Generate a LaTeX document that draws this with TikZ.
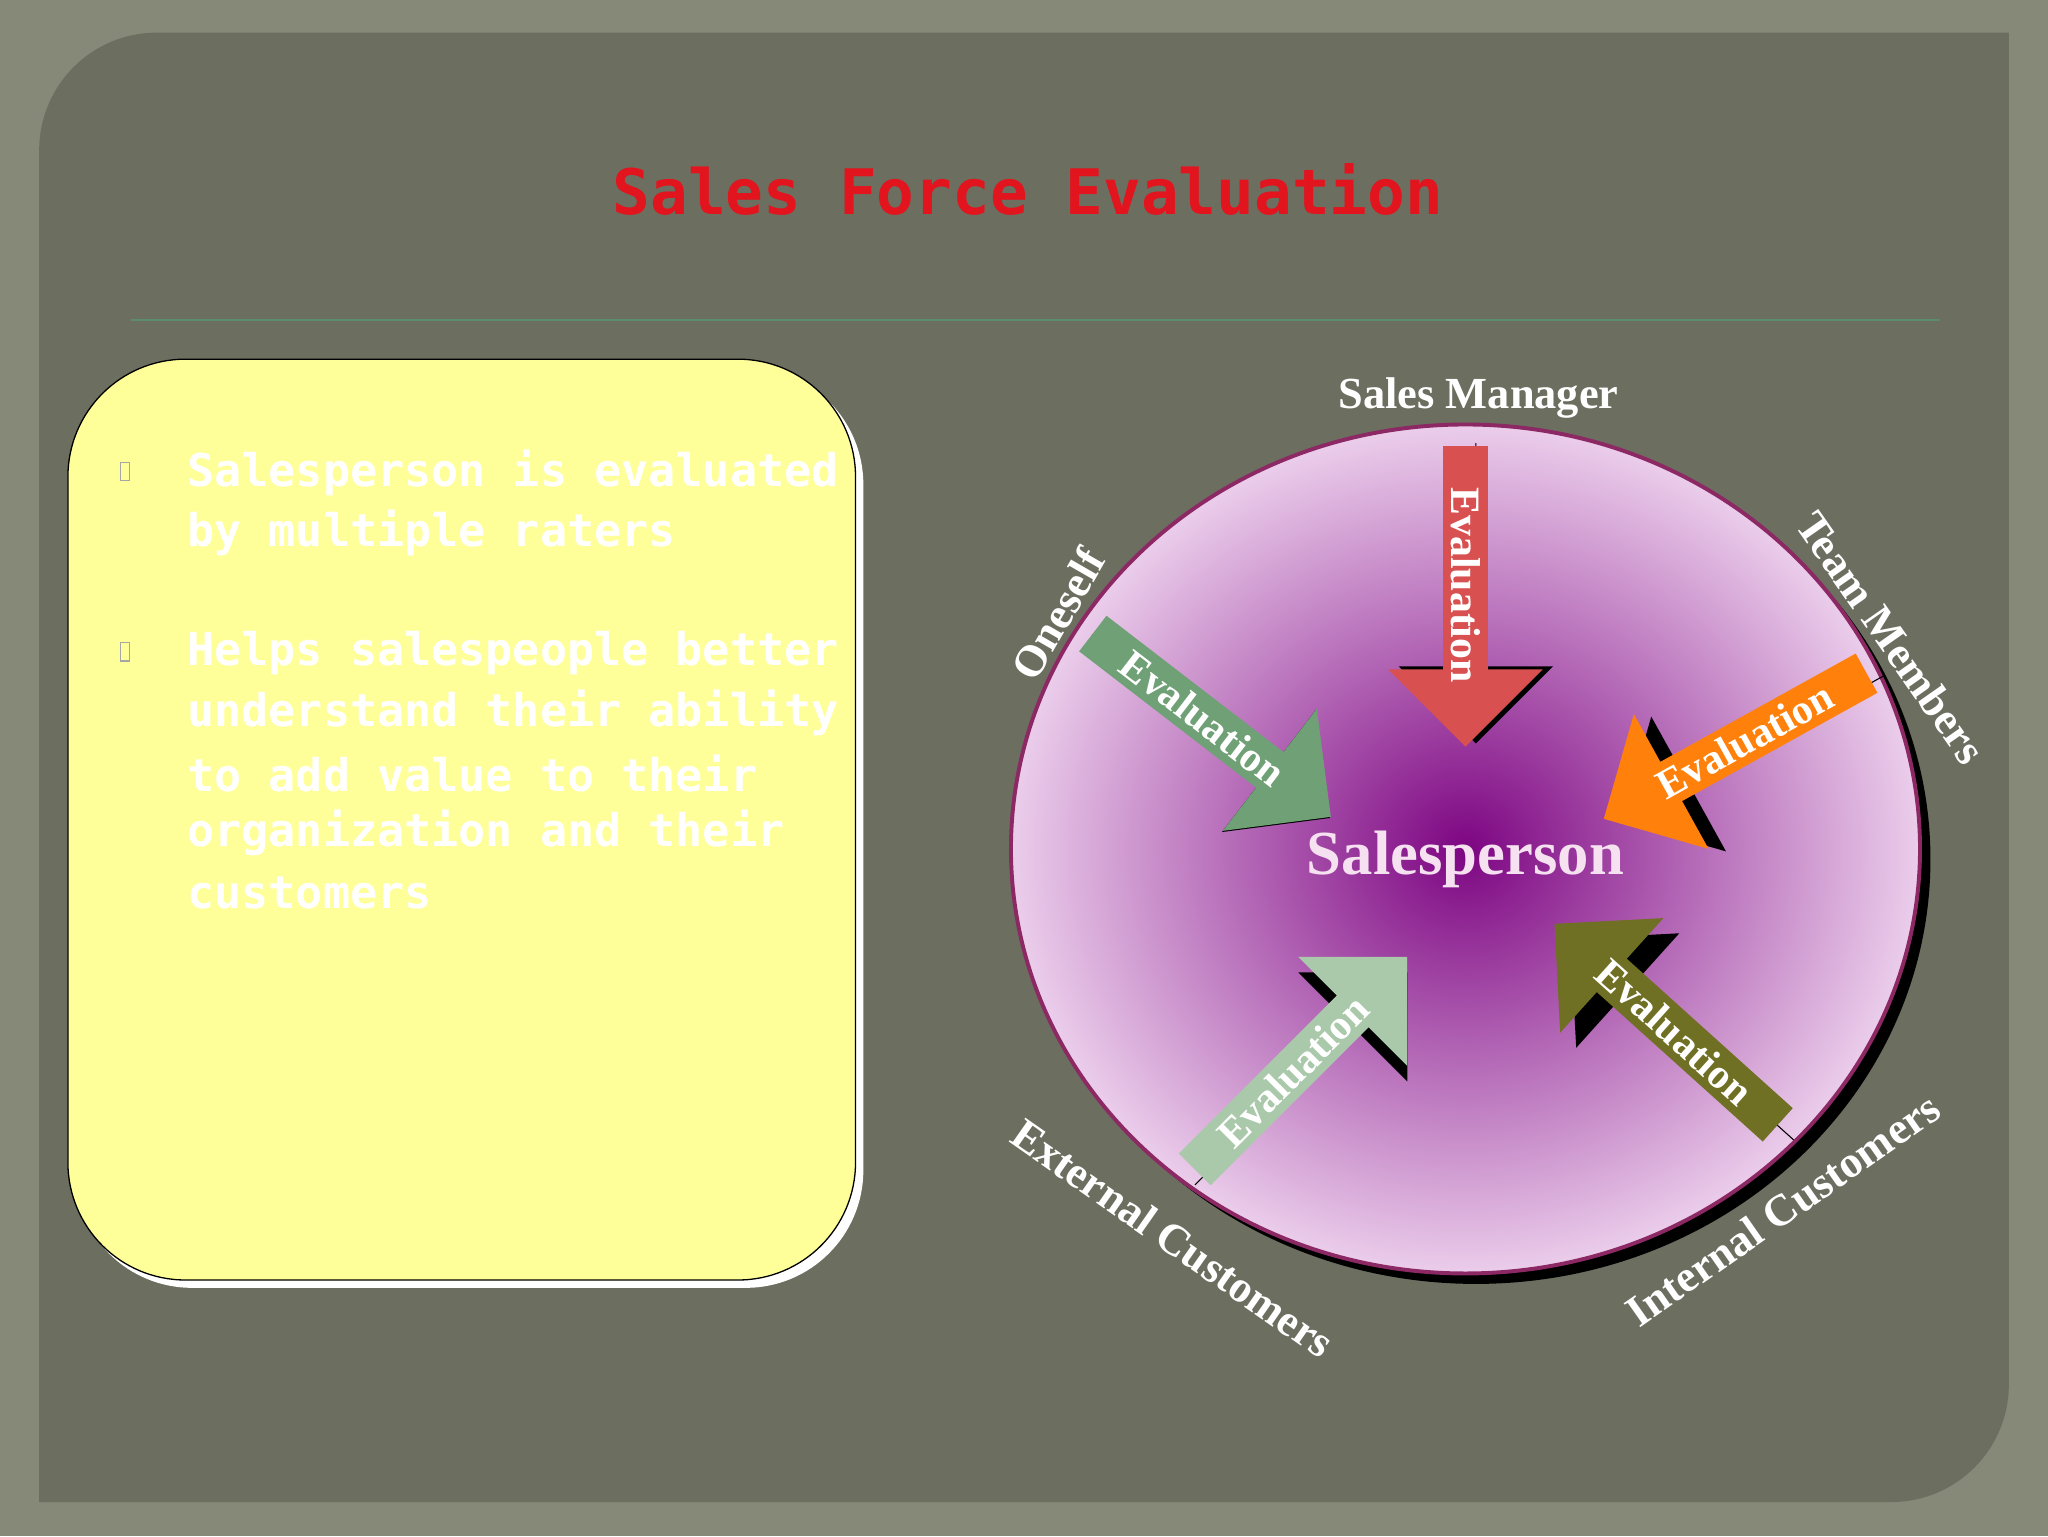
\documentclass[tikz,border=0pt]{standalone}
\usepackage{fontspec}
\setmainfont{Liberation Serif}
\newfontfamily\monof{DejaVu Sans Mono}
\usetikzlibrary{shapes.arrows}
\definecolor{outerbg}{RGB}{134,137,120}
\definecolor{panel}{RGB}{108,110,96}
\definecolor{titlered}{RGB}{226,20,30}
\definecolor{boxyellow}{RGB}{255,255,153}
\definecolor{rimc}{RGB}{140,40,100}
\definecolor{smred}{RGB}{216,80,80}
\definecolor{onegreen}{RGB}{112,160,118}
\definecolor{teamorange}{RGB}{255,128,10}
\definecolor{extgreen}{RGB}{170,200,170}
\definecolor{intolive}{RGB}{112,112,36}
\begin{document}
\begin{tikzpicture}[x=1pt,y=1pt,
  evarrow/.style={single arrow, minimum width=118, single arrow head extend=28, inner sep=0pt,
     minimum height=230, text=white, font=\fontsize{32}{36}\selectfont\bfseries, align=center},
  evshadow/.style={single arrow, minimum width=118, single arrow head extend=28, inner sep=0pt,
     minimum height=230, fill=black},
  lbl/.style={text=white, font=\fontsize{34}{38}\selectfont\bfseries},
  monotext/.style={text=white, font=\fontsize{34.5}{46}\selectfont\monof\bfseries, anchor=west}]
\useasboundingbox (0,0) rectangle (1568,1176);
\fill[outerbg] (0,0) rectangle (1568,1176);
\fill[panel] (30,26) -- (1448,26) arc[start angle=-90,end angle=0,radius=90] -- (1538,1151) -- (120,1151) arc[start angle=90,end angle=180,radius=90] -- cycle;
% title
\node[text=titlered, font=\fontsize{48}{56}\selectfont\monof\bfseries] (title) at (787,1031) {Sales Force Evaluation};
\draw[color={rgb,255:red,90;green,140;blue,110}, line width=1.2pt] (100,931) -- (1485,931);
% yellow box
\fill[white,rounded corners=90] (57,190) rectangle (661,895);
\draw[fill=boxyellow,rounded corners=90,line width=1pt] (52,196) rectangle (655,901);
\node[monotext] (t1) at (140,814) {Salesperson is evaluated};
\node[monotext] (t2) at (140,768) {by multiple raters};
\node[monotext] (t3) at (140,676) {Helps salespeople better};
\node[monotext] (t4) at (140,630) {understand their ability};
\node[monotext] (t5) at (140,584) {to add value to their};
\node[monotext] (t6) at (140,538) {organization and their};
\node[monotext] (t7) at (140,492) {customers};
\draw[gray!70,line width=1pt] (92,808) rectangle (99,822);
\draw[gray!70,line width=1pt] (92,670) rectangle (99,684);
% circle
\fill[black] (1130,518) ellipse[x radius=348, y radius=325];
\shade[inner color={rgb,255:red,125;green,5;blue,130}, outer color={rgb,255:red,235;green,205;blue,235}] (1122,526) ellipse[x radius=348, y radius=325];
\draw[rimc,line width=3pt] (1122,526) ellipse[x radius=348, y radius=325];
% arrows
\node[evshadow, rotate=-90] at (1130,722) {};
\node[evarrow, fill=smred, rotate=-90] (sm) at (1122,728) {Evaluation};
\node[evshadow, rotate=-37.6] at (927,620) {};
\node[evarrow, fill=onegreen, rotate=-37.6] (one) at (921,626) {Evaluation};
\node[evshadow, rotate=29, shape border rotate=180] at (1342,603) {};
\node[evarrow, fill=teamorange, rotate=29, shape border rotate=180] (team) at (1336,609) {Evaluation};
\node[evshadow, rotate=45] at (996,350) {};
\node[evarrow, fill=extgreen, rotate=45] (ext) at (990,356) {Evaluation};
\node[evshadow, rotate=-42, shape border rotate=180] at (1288,380) {};
\node[evarrow, fill=intolive, rotate=-42, shape border rotate=180] (int) at (1282,386) {Evaluation};
% labels
\node[text={rgb,255:red,245;green,225;blue,240}, font=\fontsize{48}{54}\selectfont\bfseries] (sp) at (1122,518) {Salesperson};
\node[lbl] (lsm) at (1132,871) {Sales Manager};
\node[lbl, rotate=60] (lone) at (810,706) {Oneself};
\node[lbl, rotate=-55] (lteam) at (1448,688) {Team Members};
\node[lbl, rotate=-35] (lext) at (898,228) {External Customers};
\node[lbl, rotate=35] (lint) at (1365,250) {Internal Customers};
\end{tikzpicture}
\end{document}
